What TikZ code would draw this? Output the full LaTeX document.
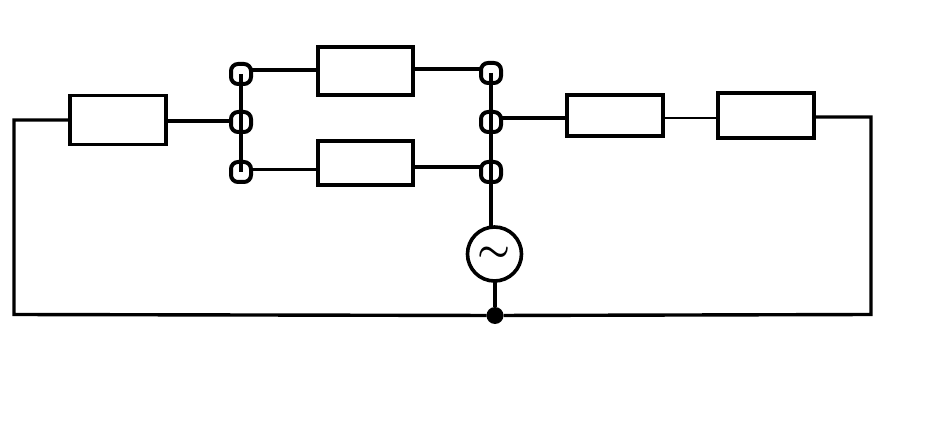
\documentclass[tikz,border=0pt]{standalone}
\usepackage{amsmath}
\usepackage{xcolor}
\usepackage{tikz}
\tikzset{
    wire/.style={line width=3.4pt},
    resbox/.style={draw,line width=3.6pt,minimum width=95.5pt,minimum height=48pt,inner sep=0pt,outer sep=0pt},
    terminal/.style={draw,line width=4pt,rounded corners=7pt,minimum width=20pt,minimum height=20pt,inner sep=0pt,outer sep=0pt},
    source/.style={draw,circle,line width=3.6pt,minimum size=54pt,inner sep=0pt,outer sep=0pt},
    junction/.style={fill,circle,minimum size=17pt,inner sep=0pt,outer sep=0pt}
}
\begin{document}
\begin{tikzpicture}[x=1pt,y=-1pt]
            \useasboundingbox (0,0) rectangle (927,433);
            \node[resbox,minimum height=49pt] (res1) at (118,120) {};
            \node[resbox] (res2) at (365.5,71) {};
            \node[resbox,minimum height=44pt] (res3) at (365.5,163) {};
            \node[resbox,minimum height=41pt] (res4) at (615,115.5) {};
            \node[resbox,minimum height=45pt] (res5) at (766,115.5) {};
            \node[terminal] (t1) at (241,74) {};
            \node[terminal] (t2) at (241,122) {};
            \node[terminal] (t3) at (241,172) {};
            \node[terminal] (t4) at (491,73) {};
            \node[terminal] (t5) at (491,122) {};
            \node[terminal] (t6) at (491,172) {};
            \node[source] (gen) at (494.5,254) {\scalebox{3.7}{$\boldsymbol{\sim}$}};
            \node[junction] (dot) at (495,315.5) {};
            \coordinate (cl1) at (14,120);
            \coordinate (cl2) at (14,314.5);
            \coordinate (cr1) at (871,117);
            \coordinate (cr2) at (871,314.5);
            \draw[wire] (t1.center) -- (t3.center);
            \draw[wire] (t4.center) -- (t6.center) -- (t6.center |- gen.north);
            \draw[wire] (res1.east |- 0,121) -- (t2.west |- 0,121);
            \draw[wire] (t1.east |- 0,70) -- (res2.west |- 0,70);
            \draw[wire] (res2.east |- 0,69) -- (t4.west |- 0,69);
            \draw[wire] (t3.east |- 0,169.5) -- (res3.west |- 0,169.5);
            \draw[wire] (res3.east |- 0,167) -- (t6.west |- 0,167);
            \draw[wire] (t5.east |- 0,118) -- (res4.west |- 0,118);
            \draw[line width=2pt] (res4.east |- 0,118) -- (res5.west |- 0,118);
            \draw[wire] (res5.east |- 0,117) -- (cr1) -- (cr2) -- (dot);
            \draw[wire] (res1.west |- cl1) -- (cl1) -- (cl2) -- (dot);
            \draw[wire] (gen.south -| dot) -- (dot);
        \end{tikzpicture}
\end{document}
